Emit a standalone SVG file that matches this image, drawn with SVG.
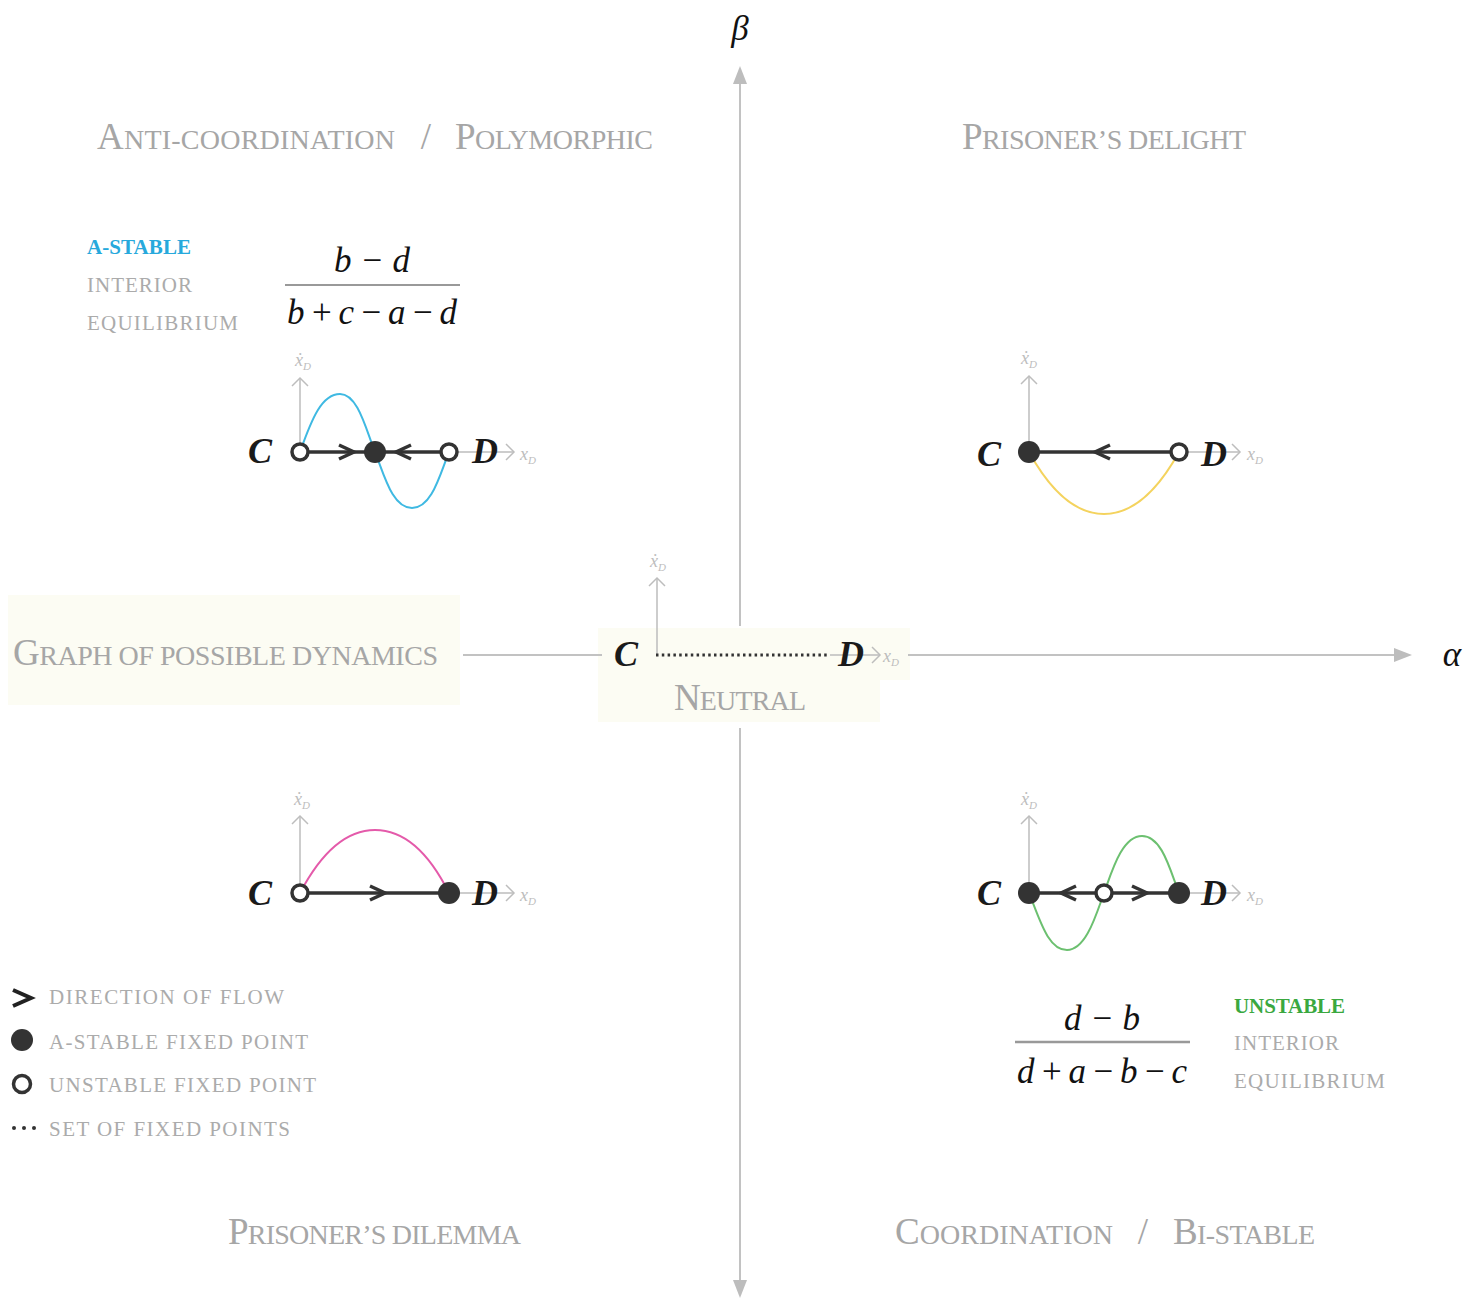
<svg xmlns="http://www.w3.org/2000/svg" xmlns:xlink="http://www.w3.org/1999/xlink" width="1472" height="1299" viewBox="0 0 1472 1299">
<style>
.title{font-family:"Liberation Serif","Times New Roman",serif;fill:#a6a6a6;font-size:28px}
.title .big{font-size:37px}
.lab{font-family:"Liberation Serif","Times New Roman",serif;fill:#ababab;font-size:21px}
.cd{font-family:"Liberation Serif","Times New Roman",serif;font-style:italic;font-weight:bold;fill:#1a1a1a;font-size:36px}
.math{font-family:"Liberation Serif","Times New Roman",serif;font-style:italic;fill:#111;font-size:35px}
.ax{fill:none;stroke:#c2c2c2;stroke-width:2}
.sax{fill:none;stroke:#bdbdbd;stroke-width:1.5}
.sxl{font-family:"Liberation Serif","DejaVu Serif",serif;font-style:italic;fill:#bdbdbd;font-size:18px}
.sub{font-size:11px}
.phase{stroke:#333;stroke-width:3.5;fill:none}
.open{fill:#fff;stroke:#333;stroke-width:3.5}
.filled{fill:#333}
.chev{fill:none;stroke:#333;stroke-width:3.5;stroke-linejoin:miter}
.bg{fill:#fcfcf3}
</style>
<defs>
<path id="chevR" class="chev" d="M-9,-7 L6,0 L-9,7"/>
<path id="chevL" class="chev" d="M9,-7 L-6,0 L9,7"/>
<path id="sUp" class="sax" d="M-8,8 L0,0 L8,8"/>
<path id="sRt" class="sax" d="M-8,-8 L0,0 L-8,8"/>
</defs>

<!-- background boxes -->
<rect class="bg" x="8" y="595" width="452" height="110"/>
<path class="bg" d="M598,628 H910 V680 H880 V722 H598 Z"/>

<!-- main axes -->
<g id="connectors">
<line class="ax" x1="740" y1="82" x2="740" y2="626"/>
<line class="ax" x1="740" y1="728" x2="740" y2="1284"/>
<polygon points="740,66 733,84 747,84" fill="#bdbdbd"/>
<polygon points="740,1298 733,1280 747,1280" fill="#bdbdbd"/>
<line class="ax" x1="463" y1="655" x2="602" y2="655"/>
<line class="ax" x1="908" y1="655" x2="1396" y2="655"/>
<polygon points="1412,655 1394,648 1394,662" fill="#bdbdbd"/>
</g>

<text class="math" x="740" y="40" text-anchor="middle" font-size="40">β</text>
<text class="math" x="1452" y="666" text-anchor="middle" font-size="40">α</text>

<!-- titles -->
<g id="title-anticoord">
<text class="title" x="97" y="149" textLength="298"><tspan class="big">A</tspan>NTI-COORDINATION</text>
<text class="title" x="426" y="149" text-anchor="middle"><tspan class="big">/</tspan></text>
<text class="title" x="455" y="149" textLength="198"><tspan class="big">P</tspan>OLYMORPHIC</text>
</g>
<g id="title-delight"><text class="title" x="962" y="149" textLength="284"><tspan class="big">P</tspan>RISONER’S DELIGHT</text></g>
<g id="title-graph"><text class="title" x="13" y="665" textLength="425"><tspan class="big">G</tspan>RAPH OF POSSIBLE DYNAMICS</text></g>
<g id="title-dilemma"><text class="title" x="228" y="1244" textLength="293"><tspan class="big">P</tspan>RISONER’S DILEMMA</text></g>
<g id="title-coord">
<text class="title" x="895" y="1244" textLength="218"><tspan class="big">C</tspan>OORDINATION</text>
<text class="title" x="1143" y="1244" text-anchor="middle"><tspan class="big">/</tspan></text>
<text class="title" x="1173" y="1244" textLength="142"><tspan class="big">B</tspan>I-STABLE</text>
</g>

<!-- top-left equilibrium label -->
<g id="eq-astable">
<text class="lab" x="87" y="254" textLength="104" style="fill:#27a9dc;font-weight:bold">A-STABLE</text>
<text class="lab" x="87" y="292" textLength="105">INTERIOR</text>
<text class="lab" x="87" y="330" textLength="151">EQUILIBRIUM</text>
<text class="math" x="372" y="272" text-anchor="middle">b − d</text>
<line x1="285" y1="285" x2="460" y2="285" stroke="#999" stroke-width="2"/>
<text class="math" x="372" y="324" text-anchor="middle" textLength="170">b+c−a−d</text>
</g>

<!-- bottom-right equilibrium label -->
<g id="eq-unstable">
<text class="lab" x="1234" y="1013" textLength="111" style="fill:#3aa83f;font-weight:bold">UNSTABLE</text>
<text class="lab" x="1234" y="1050" textLength="105">INTERIOR</text>
<text class="lab" x="1234" y="1088" textLength="151">EQUILIBRIUM</text>
<text class="math" x="1102" y="1030" text-anchor="middle">d − b</text>
<line x1="1015" y1="1042" x2="1190" y2="1042" stroke="#999" stroke-width="2.5"/>
<text class="math" x="1102" y="1083" text-anchor="middle" textLength="170">d+a−b−c</text>
</g>

<!-- phase diagram: anti-coordination -->
<g id="phase-anticoord">
<line class="sax" x1="300" y1="452" x2="300" y2="378"/>
<use xlink:href="#sUp" x="300" y="378"/>
<text class="sxl" x="295" y="366">ẋ<tspan class="sub" dy="4">D</tspan></text>
<line class="sax" x1="449" y1="452" x2="514" y2="452"/>
<use xlink:href="#sRt" x="514" y="452"/>
<text class="sxl" x="520" y="460">x<tspan class="sub" dy="4">D</tspan></text>
<path d="M300,452 C312,418 322,394 340,394 C358,394 366,430 375,452 C384,474 392,508 412,508 C432,508 440,474 449,452" fill="none" stroke="#3fb9e2" stroke-width="2"/>
<line class="phase" x1="300" y1="452" x2="449" y2="452"/>
<use xlink:href="#chevR" x="348" y="452"/>
<use xlink:href="#chevL" x="402" y="452"/>
<circle class="open" cx="300" cy="452" r="8"/>
<circle class="filled" cx="375" cy="452" r="11"/>
<circle class="open" cx="449" cy="452" r="8"/>
<text class="cd" x="248" y="463">C</text>
<text class="cd" x="472" y="463">D</text>
</g>

<!-- phase diagram: prisoner's delight -->
<g id="phase-delight">
<line class="sax" x1="1029" y1="452" x2="1029" y2="376"/>
<use xlink:href="#sUp" x="1029" y="376"/>
<text class="sxl" x="1021" y="364">ẋ<tspan class="sub" dy="4">D</tspan></text>
<line class="sax" x1="1179" y1="452" x2="1240" y2="452"/>
<use xlink:href="#sRt" x="1240" y="452"/>
<text class="sxl" x="1247" y="460">x<tspan class="sub" dy="4">D</tspan></text>
<path d="M1029,452 C1050,490 1075,514 1104,514 C1133,514 1158,490 1179,452" fill="none" stroke="#f4d35e" stroke-width="2"/>
<line class="phase" x1="1029" y1="452" x2="1179" y2="452"/>
<use xlink:href="#chevL" x="1101" y="452"/>
<circle class="filled" cx="1029" cy="452" r="11"/>
<circle class="open" cx="1179" cy="452" r="8"/>
<text class="cd" x="977" y="466">C</text>
<text class="cd" x="1201" y="466">D</text>
</g>

<!-- phase diagram: neutral -->
<g id="phase-neutral">
<line class="sax" x1="657" y1="655" x2="657" y2="578"/>
<use xlink:href="#sUp" x="657" y="578"/>
<text class="sxl" x="650" y="567">ẋ<tspan class="sub" dy="4">D</tspan></text>
<line class="sax" x1="830" y1="655" x2="880" y2="655"/>
<use xlink:href="#sRt" x="880" y="655"/>
<text class="sxl" x="883" y="662">x<tspan class="sub" dy="4">D</tspan></text>
<line x1="656" y1="655" x2="830" y2="655" stroke="#333" stroke-width="3" stroke-dasharray="2.5 3.3"/>
<text class="cd" x="614" y="666">C</text>
<text class="cd" x="838" y="666">D</text>
<text class="title" x="674" y="710" textLength="132"><tspan class="big">N</tspan>EUTRAL</text>
</g>

<!-- phase diagram: prisoner's dilemma -->
<g id="phase-dilemma">
<line class="sax" x1="300" y1="893" x2="300" y2="816"/>
<use xlink:href="#sUp" x="300" y="816"/>
<text class="sxl" x="294" y="805">ẋ<tspan class="sub" dy="4">D</tspan></text>
<line class="sax" x1="449" y1="893" x2="514" y2="893"/>
<use xlink:href="#sRt" x="514" y="893"/>
<text class="sxl" x="520" y="901">x<tspan class="sub" dy="4">D</tspan></text>
<path d="M300,893 C320,855 345,830 375,830 C405,830 430,855 449,893" fill="none" stroke="#e45aaa" stroke-width="2"/>
<line class="phase" x1="300" y1="893" x2="449" y2="893"/>
<use xlink:href="#chevR" x="379" y="893"/>
<circle class="open" cx="300" cy="893" r="8"/>
<circle class="filled" cx="449" cy="893" r="11"/>
<text class="cd" x="248" y="905">C</text>
<text class="cd" x="472" y="905">D</text>
</g>

<!-- phase diagram: coordination -->
<g id="phase-coord">
<line class="sax" x1="1029" y1="893" x2="1029" y2="816"/>
<use xlink:href="#sUp" x="1029" y="816"/>
<text class="sxl" x="1021" y="805">ẋ<tspan class="sub" dy="4">D</tspan></text>
<line class="sax" x1="1179" y1="893" x2="1240" y2="893"/>
<use xlink:href="#sRt" x="1240" y="893"/>
<text class="sxl" x="1247" y="901">x<tspan class="sub" dy="4">D</tspan></text>
<path d="M1029,893 C1040,920 1048,950 1067,950 C1086,950 1096,915 1104,893 C1112,871 1122,836 1142,836 C1162,836 1170,870 1179,893" fill="none" stroke="#6cc070" stroke-width="2"/>
<line class="phase" x1="1029" y1="893" x2="1179" y2="893"/>
<use xlink:href="#chevL" x="1067" y="893"/>
<use xlink:href="#chevR" x="1141" y="893"/>
<circle class="filled" cx="1029" cy="893" r="11"/>
<circle class="open" cx="1104" cy="893" r="8"/>
<circle class="filled" cx="1179" cy="893" r="11"/>
<text class="cd" x="977" y="905">C</text>
<text class="cd" x="1201" y="905">D</text>
</g>

<!-- legend -->
<g id="legend">
<path d="M13,990 L31,998 L13,1006" fill="none" stroke="#222" stroke-width="4"/>
<text class="lab" x="49" y="1004" textLength="235">DIRECTION OF FLOW</text>
<circle cx="22" cy="1040" r="11" fill="#333"/>
<text class="lab" x="49" y="1049" textLength="259">A-STABLE FIXED POINT</text>
<circle cx="22" cy="1084" r="8.5" fill="#fff" stroke="#333" stroke-width="3.5"/>
<text class="lab" x="49" y="1092" textLength="267">UNSTABLE FIXED POINT</text>
<circle cx="14" cy="1128" r="2" fill="#333"/>
<circle cx="24" cy="1128" r="2" fill="#333"/>
<circle cx="34" cy="1128" r="2" fill="#333"/>
<text class="lab" x="49" y="1136" textLength="241">SET OF FIXED POINTS</text>
</g>
</svg>
